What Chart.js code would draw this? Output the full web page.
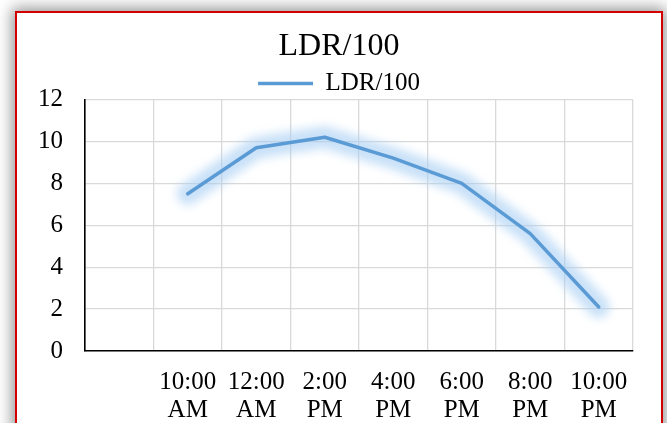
<!DOCTYPE html>
<html>
<head>
<meta charset="utf-8">
<script src="https://cdn.jsdelivr.net/npm/chart.js@4/dist/chart.umd.min.js"></script>
<style>
  html, body { margin: 0; padding: 0; background: #ffffff; overflow: hidden; }
  body { width: 667px; height: 423px; position: relative; }
  #frame {
    position: absolute; left: 15px; top: 11px;
    width: 648px; height: 440px; box-sizing: border-box;
    border: 2px solid #d40000; background: #ffffff;
    box-shadow: 0 0 14px 3px rgba(0,0,0,0.42);
  }
  #wrap { position: absolute; left: 0; top: 0; width: 667px; height: 423px; }
</style>
</head>
<body>
<div id="frame"></div>
<div id="wrap"><canvas id="chart" width="667" height="423"></canvas></div>
<script>
// Readings of the light sensor (divided by 100) through the day
const seriesName = 'LDR/100';
const timeLabels = ['', ['10:00', 'AM'], ['12:00', 'AM'], ['2:00', 'PM'], ['4:00', 'PM'],
                    ['6:00', 'PM'], ['8:00', 'PM'], ['10:00', 'PM']];
const ldrValues = [null, 7.5, 9.7, 10.2, 9.2, 8.0, 5.6, 2.1];
const yTicks = [0, 2, 4, 6, 8, 10, 12];

const FONT = "'Liberation Serif', 'Times New Roman', serif";
const LINE_BLUE = '#5b9bd5';

// soft halo behind the series line, traced through the points the line controller placed
const glowPlugin = {
  id: 'lineGlow',
  beforeDatasetsDraw(chart) {
    const ctx = chart.ctx;
    const pts = chart.getDatasetMeta(0).data.filter(p => !p.skip);
    if (!pts.length) return;
    ctx.save();
    ctx.filter = 'blur(5px)';
    ctx.lineJoin = 'round';
    ctx.lineCap = 'round';
    ctx.strokeStyle = 'rgba(165, 205, 244, 0.6)';
    ctx.lineWidth = 22;
    ctx.beginPath();
    pts.forEach((p, i) => (i ? ctx.lineTo(p.x, p.y) : ctx.moveTo(p.x, p.y)));
    ctx.stroke();
    ctx.restore();
  }
};

new Chart(document.getElementById('chart'), {
  type: 'line',
  data: {
    labels: timeLabels,
    datasets: [{
      label: seriesName,
      data: ldrValues,
      borderColor: LINE_BLUE,
      backgroundColor: LINE_BLUE,
      borderWidth: 3.5,
      borderCapStyle: 'round',
      borderJoinStyle: 'round',
      pointRadius: 0,
      pointHoverRadius: 0,
      pointStyle: 'line',
      tension: 0,
      spanGaps: false
    }]
  },
  options: {
    responsive: false,
    animation: false,
    events: [],
    layout: { padding: { left: 34, right: 23, top: 20, bottom: 0 } },
    plugins: {
      title: {
        display: true,
        text: seriesName,
        color: '#000000',
        font: { family: FONT, size: 32, weight: 'normal', lineHeight: 1.0 },
        padding: { top: 11, bottom: 0 }
      },
      legend: {
        display: true,
        position: 'top',
        maxHeight: 36.5,
        labels: {
          usePointStyle: true,
          pointStyle: 'line',
          pointStyleWidth: 55,
          padding: 8,
          color: '#000000',
          font: { family: FONT, size: 25 }
        }
      },
      tooltip: { enabled: false }
    },
    scales: {
      x: {
        offset: true,
        grid: { offset: true, color: '#d9d9d9', lineWidth: 1.3, drawTicks: false },
        border: { display: true, color: '#000000', width: 1.6 },
        ticks: {
          color: '#000000',
          font: { family: FONT, size: 25, lineHeight: 1.12 },
          padding: 17,
          autoSkip: false,
          maxRotation: 0,
          minRotation: 0
        },
        afterFit(scale) { scale.height = 72; }
      },
      y: {
        min: 0,
        max: 12,
        afterBuildTicks(scale) { scale.ticks = yTicks.map(v => ({ value: v })); },
        grid: { color: '#d9d9d9', lineWidth: 1.3, drawTicks: false },
        border: { display: true, color: '#000000', width: 1.6 },
        ticks: {
          color: '#000000',
          font: { family: FONT, size: 25 },
          padding: 22
        },
        afterFit(scale) { scale.width = 51; }
      },
      // empty right-hand margin column
      yRight: {
        position: 'right',
        min: 0,
        max: 12,
        grid: { drawOnChartArea: false, drawTicks: false },
        border: { display: false },
        ticks: { display: false },
        afterFit(scale) { scale.width = 11; }
      }
    }
  },
  plugins: [glowPlugin]
});
</script>
</body>
</html>
